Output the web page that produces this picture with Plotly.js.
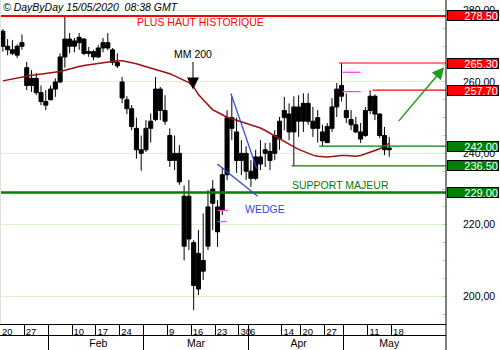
<!DOCTYPE html>
<html><head><meta charset="utf-8">
<script src="https://cdn.plot.ly/plotly-3.0.1.min.js"></script>
<style>html,body{margin:0;padding:0;background:#fff}#chart{width:500px;height:350px}</style>
</head><body><div id="chart"></div>
<script>
// ---- DATA ----
const tradingDays = [
 '2020-01-20','2020-01-21','2020-01-22','2020-01-23','2020-01-24','2020-01-27','2020-01-28','2020-01-29','2020-01-30','2020-01-31',
 '2020-02-03','2020-02-04','2020-02-05','2020-02-06','2020-02-07','2020-02-10','2020-02-11','2020-02-12','2020-02-13','2020-02-14',
 '2020-02-17','2020-02-18','2020-02-19','2020-02-20','2020-02-21','2020-02-24','2020-02-25','2020-02-26','2020-02-27','2020-02-28',
 '2020-03-02','2020-03-03','2020-03-04','2020-03-05','2020-03-06','2020-03-09','2020-03-10','2020-03-11','2020-03-12','2020-03-13',
 '2020-03-16','2020-03-17','2020-03-18','2020-03-19','2020-03-20','2020-03-23','2020-03-24','2020-03-25','2020-03-26','2020-03-27',
 '2020-03-30','2020-03-31','2020-04-01','2020-04-02','2020-04-03','2020-04-06','2020-04-07','2020-04-08','2020-04-09','2020-04-14',
 '2020-04-15','2020-04-16','2020-04-17','2020-04-20','2020-04-21','2020-04-22','2020-04-23','2020-04-24','2020-04-27','2020-04-28',
 '2020-04-29','2020-04-30','2020-05-04','2020-05-05','2020-05-06','2020-05-07','2020-05-08','2020-05-11','2020-05-12','2020-05-13',
 '2020-05-14','2020-05-15'];
const openP  = [274.2,270.0,269.0,267.5,270.0,264.0,259.0,261.0,257.0,254.5,
 255.0,258.0,260.0,267.0,272.0,270.0,271.0,272.0,268.0,268.5,
 267.0,269.5,271.0,269.0,265.5,260.0,255.0,252.5,247.0,240.0,
 241.0,247.0,249.5,258.0,252.0,245.0,238.0,240.0,228.0,216.0,
 215.0,202.0,210.0,214.0,226.0,225.0,224.0,234.0,250.0,246.0,
 238.0,240.0,235.0,233.0,239.0,240.0,238.0,240.0,244.0,250.0,
 251.0,246.0,253.0,249.0,254.0,249.0,247.0,246.0,243.0,247.0,
 253.0,259.0,252.0,249.5,248.0,246.0,245.0,252.0,256.0,251.0,
 245.0,241.0];
const highP  = [274.8,272.0,271.7,270.5,273.3,265.6,263.3,262.5,259.0,257.7,
 259.0,261.0,268.0,278.3,273.7,272.3,273.7,272.3,269.8,269.0,
 270.3,272.3,273.7,269.5,268.0,261.4,256.0,253.5,250.0,245.0,
 249.3,251.2,261.4,258.6,256.3,247.0,245.0,242.3,231.0,232.5,
 215.7,218.5,223.2,229.7,232.5,226.9,236.0,252.1,255.8,250.0,
 243.7,242.0,238.1,241.0,243.7,242.9,243.0,246.5,250.2,255.8,
 254.0,256.0,256.3,256.8,256.8,253.0,252.1,248.0,248.5,255.5,
 259.7,265.3,256.8,252.1,250.2,248.5,253.0,257.7,256.5,251.3,
 247.4,244.6];
const lowP   = [268.5,267.5,267.5,266.7,269.0,257.7,257.2,256.3,253.5,252.1,
 254.9,255.8,259.7,264.0,268.0,268.3,269.0,267.5,267.0,266.1,
 266.7,268.3,268.9,264.7,263.9,254.0,251.0,246.5,238.5,235.1,
 240.4,243.0,249.0,249.3,248.0,236.2,235.3,231.2,210.0,212.9,
 196.1,200.3,204.5,212.9,218.5,213.8,222.7,232.5,243.7,234.5,
 233.9,232.5,230.6,232.5,235.3,236.2,235.3,238.1,241.0,246.5,
 243.7,236.5,244.6,246.0,248.0,244.6,243.0,242.1,242.9,246.0,
 250.2,254.5,248.5,246.5,245.7,242.9,244.6,251.0,249.3,244.3,
 239.5,239.0];
const closeP = [270.0,269.0,268.0,270.0,271.0,259.0,261.0,257.0,254.5,253.5,
 258.0,260.0,267.0,272.0,270.0,271.5,272.5,268.0,268.5,267.0,
 269.5,271.0,269.5,265.5,264.5,255.5,252.5,247.5,241.0,241.0,
 247.0,249.0,258.0,252.0,249.0,238.0,240.0,232.0,214.0,228.0,
 203.0,212.0,207.0,225.0,230.0,218.0,234.0,250.0,247.0,238.0,
 240.0,235.0,233.0,239.0,237.0,241.0,240.5,245.0,249.0,252.0,
 246.0,253.0,249.0,254.0,249.0,247.0,250.0,243.5,247.5,253.0,
 258.0,256.0,250.0,248.0,246.0,244.0,252.0,256.0,251.0,245.0,
 241.0,241.5];
const mm200 = [260.3,260.6,260.9,261.2,261.5,261.8,261.9,262.0,262.2,262.4,
 262.5,262.6,262.9,263.3,263.7,264.0,264.3,264.6,264.8,265.1,
 265.3,265.5,265.7,265.9,265.9,265.9,265.7,265.5,265.1,264.7,
 264.3,264.0,263.7,263.3,262.8,262.3,261.7,261.1,260.5,259.8,
 258.6,256.5,255.0,253.5,252.2,251.5,250.8,250.1,249.7,249.3,
 248.9,248.4,247.9,247.5,247.1,246.4,245.6,244.9,244.2,243.4,
 242.6,241.8,241.1,240.5,239.9,239.5,239.2,239.0,239.0,239.1,
 239.3,239.4,239.4,239.3,239.2,239.4,239.8,240.4,240.8,241.3,
 242.0,242.8];

// horizontal levels drawn on the chart
const levelPrices   = [278.5, 265.3, 257.7, 242.0, 236.5, 229.0];
const levelLabels   = ['278.50','265.30','257.70','242.00','236.50','229.00'];
const levelKinds    = ['res','res','res','sup','sup','sup'];
const levelStartDay = [null, 71.0, 78.0, 66.8, 61.0, null];   // null = whole width
const levelMajor    = [true, false, false, false, false, true];

// wedge drawing
const wedgeUpperX = [48.3, 53.7],  wedgeUpperY = [256.8, 235.8];
const wedgeLowerX = [45.45, 53.9], wedgeLowerY = [237.0, 228.0];
// small magenta gap marks
const gapX0 = [71.7, 71.7, 45.65, 45.65];
const gapX1 = [75.5, 75.5, 47.75, 47.4];
const gapY  = [262.7, 257.3, 224.0, 220.9];
// target arrow
const arrowFromX = 83.2, arrowFromY = 248.6, arrowToX = 93.0, arrowToY = 264.1;
// MM200 pointer
const mmPointX = 40.36, mmPointY = 257.9;

// axis labels
const weekTickDays   = [0,5,10,15,20,25,30,35,40,45,50,52,59,63,68,72,77,82];
const weekTickLabels = ['20','27','','10','17','24','','9','16','23','30','6','14','20','27','','11','18'];
const monthSepDays   = [10,30,52,72];
const monthLabelDays = [20.5,41,62.5,81.5];
const monthLabels    = ['Feb','Mar','Apr','May'];
const yTicks = [200,220,240,260,280];

// ---- STYLE / LAYOUT ----
const FONT = 'Liberation Sans, Arial, sans-serif';
const xRange = [-0.1, 93.4];
const yRange = [192.2, 282.95];
const PX_PER_DAY = 446 / (xRange[1] - xRange[0]);
const WEEK_FONT = 9.5, DIGIT_W = 0.556 * WEEK_FONT;
const kindColor = {res:'#ff0000', sup:'#008000'};
const xs = tradingDays.map((d,i)=>i+0.5);

// week labels sit just right of their separator
const weekLabelPos = weekTickDays.map((d,i)=> d + (1.5 + DIGIT_W*weekTickLabels[i].length/2)/PX_PER_DAY);

const traces = [];
traces.push({type:'candlestick', x:xs, open:openP, high:highP, low:lowP, close:closeP,
  increasing:{line:{color:'#000',width:1}, fillcolor:'#000'},
  decreasing:{line:{color:'#000',width:1}, fillcolor:'#000'},
  whiskerwidth:0, hoverinfo:'skip', showlegend:false});
traces.push({type:'scatter', mode:'lines', x:xs, y:mm200, line:{color:'#a01010', width:1.5},
  hoverinfo:'skip', showlegend:false});
levelPrices.forEach((p,i)=>{
  const x0 = levelStartDay[i]===null ? xRange[0] : levelStartDay[i];
  traces.push({type:'scatter', mode:'lines', x:[x0, xRange[1]], y:[p,p],
    line:{color:kindColor[levelKinds[i]], width: levelMajor[i] ? (levelKinds[i]==='sup'?2.5:2) : 1.2},
    hoverinfo:'skip', showlegend:false});
});
traces.push({type:'scatter', mode:'lines', x:wedgeUpperX, y:wedgeUpperY, line:{color:'#3344ee',width:1.3}, hoverinfo:'skip', showlegend:false});
traces.push({type:'scatter', mode:'lines', x:wedgeLowerX, y:wedgeLowerY, line:{color:'#3344ee',width:1.3}, hoverinfo:'skip', showlegend:false});
gapY.forEach((y,i)=>{
  traces.push({type:'scatter', mode:'lines', x:[gapX0[i],gapX1[i]], y:[y,y], line:{color:'#ff44ff',width:1.3}, hoverinfo:'skip', showlegend:false});
});
['x2','x3','x4'].forEach(ax=>traces.push({type:'scatter', x:[], y:[], xaxis:ax, yaxis:'y', showlegend:false}));

const annotations = [];
annotations.push({xref:'paper', yref:'paper', x:0, y:1, xanchor:'left', yanchor:'top', xshift:1, yshift:1,
  text:'© DayByDay 15/05/2020  08:38 GMT', showarrow:false, font:{family:FONT, size:10.5, style:'italic', color:'#000'}});
annotations.push({xref:'x', yref:'y', x:41.9, y:276.9, text:'PLUS HAUT HISTORIQUE', showarrow:false,
  font:{family:FONT, size:10.5, color:'#ff0000'}});
annotations.push({xref:'x', yref:'y', x:71.2, y:231.1, text:'SUPPORT MAJEUR', showarrow:false,
  font:{family:FONT, size:10.5, color:'#008000'}});
annotations.push({xref:'x', yref:'y', x:55.55, y:224.3, text:'WEDGE', showarrow:false,
  font:{family:FONT, size:10.5, color:'#3344ee'}});
annotations.push({xref:'x', yref:'y', x:mmPointX, y:mmPointY, ax:0, ay:-35, text:'MM 200', showarrow:true,
  arrowhead:2, arrowsize:2.4, arrowwidth:1, arrowcolor:'#000', standoff:0, startstandoff:0,
  font:{family:FONT, size:10.5, color:'#000'}});
annotations.push({xref:'x', yref:'y', axref:'x', ayref:'y', x:arrowToX, y:arrowToY, ax:arrowFromX, ay:arrowFromY,
  text:'', showarrow:true, arrowhead:2, arrowsize:1.6, arrowwidth:1.5, arrowcolor:'#1f9b1f'});
levelPrices.forEach((p,i)=>{
  annotations.push({xref:'paper', yref:'y', x:1, y:p, xanchor:'left', yanchor:'middle', xshift:1,
    text:levelLabels[i], showarrow:false, bgcolor:kindColor[levelKinds[i]], bordercolor:'#000',
    borderwidth:1, borderpad:0, width:50, height:9, align:'right', valign:'middle',
    font:{family:FONT, size:11, color:'#fff'}});
});

const ROW = 15/350;  // y of the line between week row and month row
const baseX = {range:xRange, showgrid:false, zeroline:false, fixedrange:true, tickangle:0};
const layout = {
  width:500, height:350, margin:{l:0, r:54, t:0, b:0},
  paper_bgcolor:'#fff', plot_bgcolor:'#fff', showlegend:false,
  separators:', ', boxgap:0.15, boxgroupgap:0,
  font:{family:FONT, size:10, color:'#000'},
  // week labels, under the plot line
  xaxis: Object.assign({}, baseX, {anchor:'y', tickmode:'array', tickvals:weekLabelPos, ticktext:weekTickLabels,
     ticks:'', showline:true, linecolor:'#000', linewidth:1, ticklabelstandoff:-1,
     tickfont:{family:FONT, size:WEEK_FONT, color:'#000'}, rangeslider:{visible:false}}),
  // week separators + middle line
  xaxis2: Object.assign({}, baseX, {overlaying:'x', anchor:'free', position:ROW, tickmode:'array',
     tickvals:weekTickDays, ticks:'inside', ticklen:11, tickcolor:'#000', tickwidth:1,
     showticklabels:false, showline:true, linecolor:'#000', linewidth:1}),
  // month separators
  xaxis3: Object.assign({}, baseX, {overlaying:'x', anchor:'free', position:ROW, tickmode:'array',
     tickvals:monthSepDays, ticks:'outside', ticklen:16, tickcolor:'#000', tickwidth:1,
     showticklabels:false, showline:false}),
  // month names
  xaxis4: Object.assign({}, baseX, {overlaying:'x', anchor:'free', position:ROW, tickmode:'array',
     tickvals:monthLabelDays, ticktext:monthLabels, ticks:'', showline:false,
     tickfont:{family:FONT, size:10.5, color:'#000'}}),
  yaxis: {domain:[26/350, 1], range:yRange, side:'right', tickmode:'array', tickvals:yTicks,
     tickformat:'.2f', showgrid:true, gridcolor:'#dcf3d2', gridwidth:1, zeroline:false, showline:false,
     ticks:'', ticklabelstandoff:16, fixedrange:true, tickfont:{family:FONT, size:10.5, color:'#000'},
     minor:{tickmode:'linear', tick0:0, dtick:5, ticks:'inside', ticklen:4, tickcolor:'#b8e6b0', showgrid:false}},
  shapes:[
    {type:'line', xref:'paper', yref:'paper', x0:1, x1:1, y0:0, y1:1, line:{color:'#000', width:1}},
    {type:'line', xref:'paper', yref:'paper', x0:0, x1:0, y0:26/350, y1:1, line:{color:'#e0e0e0', width:2}}
  ],
  annotations: annotations
};
Plotly.newPlot('chart', traces, layout, {staticPlot:true, displayModeBar:false});
</script>
</body></html>
